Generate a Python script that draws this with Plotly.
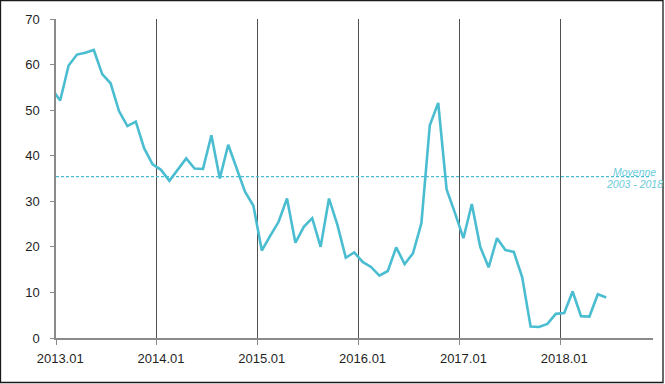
import plotly.graph_objects as go

# ---- data ----
years = [2013, 2014, 2015, 2016, 2017, 2018]
# categories: first entry (2012.12) lies just outside the visible axis (line is clipped)
months = ["2012.12"] + [f"{y}.{m:02d}" for y in years for m in range(1, 13)][:66]
values = [54.7,
          52.1, 59.8, 62.2, 62.6, 63.2, 57.9, 55.9, 49.8, 46.5, 47.5, 41.6, 38.1,
          36.9, 34.5, 37.0, 39.4, 37.2, 37.1, 44.5, 35.0, 42.4, 37.3, 32.1, 29.0,
          19.2, 22.4, 25.5, 30.6, 20.9, 24.4, 26.3, 20.0, 30.6, 24.8, 17.6, 18.8,
          16.7, 15.6, 13.7, 14.7, 19.9, 16.2, 18.6, 25.2, 46.7, 51.6, 32.6, 27.4,
          21.9, 29.4, 20.0, 15.5, 21.9, 19.3, 18.9, 13.3, 2.5, 2.4, 3.1, 5.3,
          5.5, 10.2, 4.8, 4.7, 9.6, 8.9]
average_value = 35.4
average_label = ["Moyenne", "2003 - 2018"]
tick_labels = [f"{y}.01" for y in years]
y_ticks = [0, 10, 20, 30, 40, 50, 60, 70]

# category index positions (2013.01 -> 0)
x_idx = [i - 1 for i in range(len(months))]
tick_pos = [months.index(t) - 1 for t in tick_labels]
boundary_pos = [p - 0.5 for p in tick_pos]

TEAL = "#4BBDD1"
W, H = 665, 384
ML, MR, MT, MB = 56, 12, 19, 46
PW, PH = W - ML - MR, H - MT - MB

fig = go.Figure()
fig.add_trace(go.Scatter(x=x_idx, y=values, mode="lines",
                         line=dict(color=TEAL, width=2.6), text=months,
                         hoverinfo="text+y", showlegend=False))

fig.add_shape(type="line", xref="paper", yref="y", x0=0, x1=0.997,
              y0=average_value, y1=average_value,
              line=dict(color=TEAL, width=1.3, dash="3px,2px"))

ann_font = dict(family="Liberation Sans, Arial, sans-serif",
                size=10.5, color="#6CCBDA", style="italic")
ann_x = (634 - ML) / PW
fig.add_annotation(xref="paper", yref="y", x=ann_x, y=average_value + 1.0,
                   text=average_label[0], showarrow=False, font=ann_font,
                   xanchor="center", yanchor="middle")
fig.add_annotation(xref="paper", yref="y", x=ann_x, y=average_value - 1.6,
                   text=average_label[1], showarrow=False, font=ann_font,
                   xanchor="center", yanchor="middle")

# outer border around the whole image
fig.add_shape(type="rect", xref="paper", yref="paper",
              x0=(0.5 - ML) / PW, x1=(663 - ML) / PW,
              y0=(MT + PH - 382.5) / PH, y1=(MT + PH - 0.5) / PH,
              line=dict(color="#1a1a1a", width=1.3), layer="above")

font = dict(family="Liberation Sans, Arial, sans-serif", size=13, color="#1f1f1f")
fig.update_layout(
    width=W, height=H, margin=dict(l=ML, r=MR, t=MT, b=MB),
    paper_bgcolor="white", plot_bgcolor="white", font=font,
    xaxis=dict(range=[-0.5, 70.57], tickmode="array", tickvals=tick_pos,
               ticktext=tick_labels, ticks="", showgrid=False, zeroline=False,
               showline=True, linecolor="#8a8a8a", linewidth=1.5,
               ticklabelstandoff=8,
               minor=dict(tickmode="array", tickvals=boundary_pos, ticks="outside",
                          ticklen=5, tickcolor="#8a8a8a", tickwidth=1.2,
                          showgrid=True, gridcolor="#505050", gridwidth=1)),
    yaxis=dict(range=[0, 70], tickmode="array", tickvals=y_ticks, ticks="outside",
               ticklen=4, tickcolor="#8a8a8a", tickwidth=1.2, showgrid=False,
               zeroline=False, showline=True, linecolor="#8a8a8a", linewidth=1.5,
               ticklabelstandoff=8),
)

fig.write_html("out.html", config={"displayModeBar": False},
               post_script="document.body.style.margin='0px';document.body.style.overflow='hidden';")
